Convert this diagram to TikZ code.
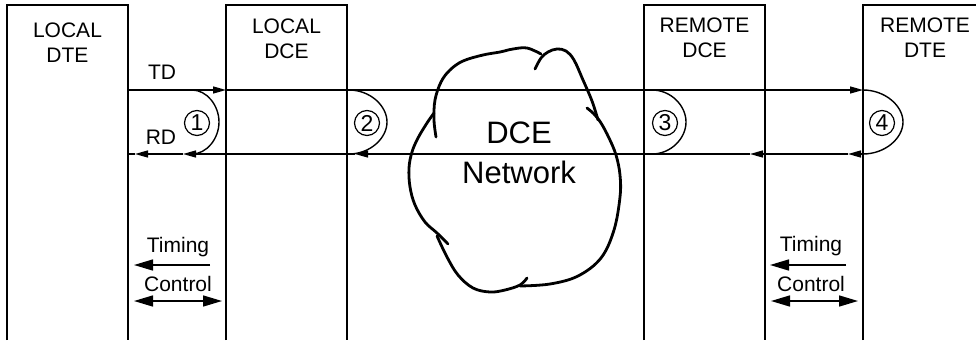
\documentclass[tikz,border=0pt]{standalone}
\usepackage{fontspec}
\setmainfont{Liberation Sans}
\usetikzlibrary{arrows.meta}
\tikzset{
  boxline/.style={line width=1.8pt},
  sigline/.style={line width=1.4pt},
  sigarrow/.style={line width=1.4pt, -{Triangle[length=13pt,width=7pt]}},
  bigtip/.style={line width=1.5pt, -{Triangle[length=19pt,width=11pt]}},
  bigtwo/.style={line width=1.5pt, {Triangle[length=19pt,width=11pt]}-{Triangle[length=19pt,width=11pt]}},
  lbl/.style={font=\fontsize{21}{25}\selectfont, align=center, inner sep=0pt},
  numc/.style={draw, circle, line width=1.2pt, minimum size=25pt, inner sep=0pt, font=\fontsize{23}{23}\selectfont},
  cloudline/.style={line width=2.8pt, line cap=round, line join=round},
  bigtxt/.style={font=\fontsize{31}{31}\selectfont, inner sep=0pt}
}
\begin{document}
\begin{tikzpicture}[x=1pt,y=-1pt]
\useasboundingbox (0,0) rectangle (976,340);
% boxes
\draw[boxline] (7,340) -- (7,5) -- (128,5) -- (128,340);
\draw[boxline] (226,340) -- (226,5) -- (347,5) -- (347,340);
\draw[boxline] (644,340) -- (644,5) -- (765,5) -- (765,340);
\draw[boxline] (863,340) -- (863,5) -- (980,5);
\node[lbl] (ldte) at (67.5,42.5) {LOCAL\\DTE};
\node[lbl] (ldce) at (286.5,38.5) {LOCAL\\DCE};
\node[lbl] (rdce) at (704.5,37.5) {REMOTE\\DCE};
\node[lbl] (rdte) at (925,37.5) {REMOTE\\DTE};
% cloud
\draw[cloudline] plot[smooth, tension=0.6] coordinates {(535,69) (541,58) (548,52) (557,49) (566,51) (574,60) (583,80) (592,101) (598,120)};
\draw[cloudline] plot[smooth, tension=0.6] coordinates {(587,108) (594,114) (601,123) (609,138) (616,155) (620,175) (620,197) (614,230) (601,258) (578,276) (550,284) (520,286)};
\draw[cloudline] plot[smooth, tension=0.6] coordinates {(527,278) (520,285) (505,290) (490,292) (473,288) (458,275) (447,257) (437,236)};
\draw[cloudline] plot[smooth, tension=0.6] coordinates {(448,244) (437,233) (425,222) (415,205) (410,187) (409,168) (412,152) (418,138) (427,123) (434,113)};
\draw[cloudline] plot[smooth, tension=0.6] coordinates {(436,137) (434,120) (435,100) (441,82) (450,70) (463,61) (483,55) (500,52) (513,49) (527,48) (541,54)};
\node[bigtxt] (dce) at (519,133) {DCE};
\node[bigtxt] (net) at (519,172) {Network};
% signal coordinates
\coordinate (tdA) at (128,90);
\coordinate (tdB) at (226,90);
\coordinate (tdC) at (863,90);
\coordinate (rdA) at (863,154);
\coordinate (rdB) at (848,154);
\coordinate (rdC) at (750,154);
\coordinate (rdD) at (355,154);
\coordinate (rdE) at (183,154);
\coordinate (rdF) at (135,154);
\coordinate (rdG) at (128,154);
% TD line
\draw[sigarrow] (tdA) -- (tdB);
\draw[sigarrow] (tdB) -- (tdC);
% RD line
\draw[sigarrow] (rdA) -- (rdB);
\draw[sigarrow] (rdB) -- (rdC);
\draw[sigarrow] (rdC) -- (rdD);
\draw[sigarrow] (rdD) -- (rdE);
\draw[sigarrow] (rdE) -- (rdF);
\draw[sigline] (rdF) -- (rdG);
% loops
\draw[sigline] (192,90) .. controls (207,90) and (219,105.7) .. (219,122) .. controls (219,138.3) and (207,154) .. (192,154);
\draw[sigline] (349,90) .. controls (370,90) and (387,105.7) .. (387,122) .. controls (387,138.3) and (370,154) .. (349,154);
\draw[sigline] (652,90) .. controls (671,90) and (686,105.7) .. (686,122) .. controls (686,138.3) and (671,154) .. (652,154);
\draw[sigline] (863,90) .. controls (885,90) and (903,105.7) .. (903,122) .. controls (903,138.3) and (885,154) .. (863,154);
\node[numc] (n1) at (197,123) {1};
\node[numc] (n2) at (367,123) {2};
\node[numc] (n3) at (665,123) {3};
\node[numc] (n4) at (882,123) {4};
\node[lbl] (td) at (162,72) {TD};
\node[lbl] (rd) at (161,137) {RD};
% timing / control
\coordinate (lt1) at (210,265);
\coordinate (lt2) at (134,265);
\coordinate (lc1) at (134,301);
\coordinate (lc2) at (222,301);
\coordinate (rt1) at (846,265);
\coordinate (rt2) at (770,265);
\coordinate (rc1) at (771,301);
\coordinate (rc2) at (858,301);
\node[lbl] (ltim) at (178,247) {Timing};
\node[lbl] (lcon) at (178,284) {Control};
\node[lbl] (rtim) at (811,246) {Timing};
\node[lbl] (rcon) at (811,284) {Control};
\draw[bigtip] (lt1) -- (lt2);
\draw[bigtwo] (lc1) -- (lc2);
\draw[bigtip] (rt1) -- (rt2);
\draw[bigtwo] (rc1) -- (rc2);
\end{tikzpicture}
\end{document}
